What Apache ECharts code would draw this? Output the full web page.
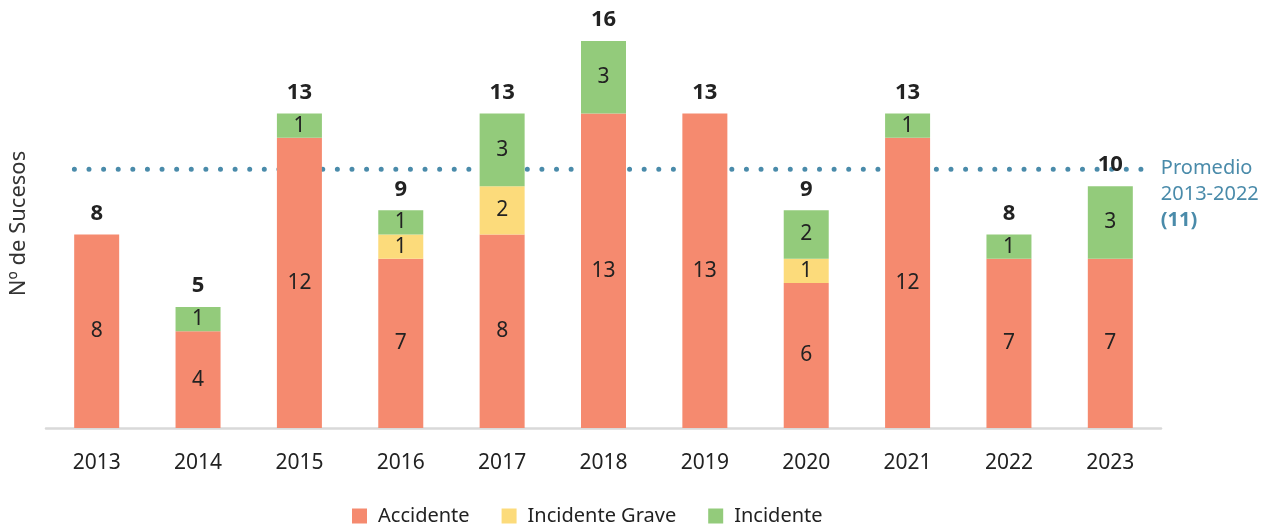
<!DOCTYPE html>
<html>
<head>
<meta charset="utf-8">
<script src="https://cdn.jsdelivr.net/npm/echarts@6/dist/echarts.min.js"></script>
<style>
  html, body { margin: 0; padding: 0; background: #fff; }
  #chart { width: 1270px; height: 528px; }
</style>
</head>
<body>
<div id="chart"></div>
<script>
// Sucesos por año, por tipo
const years = ['2013', '2014', '2015', '2016', '2017', '2018', '2019', '2020', '2021', '2022', '2023'];
const accidente = [8, 4, 12, 7, 8, 13, 13, 6, 12, 7, 7];
const incidenteGrave = [0, 0, 0, 1, 2, 0, 0, 1, 0, 0, 0];
const incidente = [0, 1, 1, 1, 3, 3, 0, 2, 1, 1, 3];

const totals = years.map((_, i) => accidente[i] + incidenteGrave[i] + incidente[i]);
// Promedio 2013-2022 (first ten years)
const promedioYears = totals.slice(0, 10);
const promedio = promedioYears.reduce((a, b) => a + b, 0) / promedioYears.length;
// horizontal extent of the dotted average line, in category units
const promedioSpan = [0.28, 10.88];

const FONT = '"Noto Sans", "Open Sans", sans-serif';
const C_ACC = '#F58A6F';
const C_GRV = '#FCDB7B';
const C_INC = '#93CB7B';
const C_AVG = '#4A8BAA';

const innerLabel = {
  show: true,
  position: 'inside',
  color: '#222',
  fontFamily: FONT,
  fontSize: 21,
  formatter: p => (p.value ? String(p.value) : '')
};

const chart = echarts.init(document.getElementById('chart'), null, { renderer: 'canvas' });
chart.setOption({
  animation: false,
  backgroundColor: '#fff',
  textStyle: { fontFamily: FONT },
  grid: { left: 43, right: 109, top: 41, bottom: 100, containLabel: false },
  legend: {
    top: 506,
    left: 352,
    padding: 0,
    itemWidth: 15,
    itemHeight: 15,
    itemGap: 32,
    icon: 'rect',
    textStyle: { fontFamily: FONT, fontSize: 20, color: '#222', padding: [0, 0, 0, 6] },
    data: ['Accidente', 'Incidente Grave', 'Incidente']
  },
  xAxis: [
    {
      type: 'category',
      data: years,
      axisLine: { show: true, lineStyle: { color: '#D9D9D9', width: 2.5 } },
      axisTick: { show: false },
      axisLabel: { color: '#222', fontFamily: FONT, fontSize: 21, margin: 25 }
    },
    {
      type: 'value',
      min: 0,
      max: years.length,
      show: false
    }
  ],
  yAxis: {
    type: 'value',
    min: 0,
    max: 16,
    name: 'Nº de Sucesos',
    nameLocation: 'middle',
    nameGap: 16,
    nameRotate: 90,
    nameTextStyle: { color: '#333', fontFamily: FONT, fontSize: 22, padding: [0, 0, 0, 22] },
    axisLine: { show: false },
    axisTick: { show: false },
    axisLabel: { show: false },
    splitLine: { show: false }
  },
  series: [
    {
      name: 'Promedio',
      type: 'line',
      xAxisIndex: 1,
      z: 1,
      symbol: 'none',
      silent: true,
      data: [[promedioSpan[0], promedio], [promedioSpan[1], promedio]],
      lineStyle: { color: C_AVG, width: 5, type: [0.01, 14.6], cap: 'round' },
      endLabel: {
        show: true,
        distance: 12,
        offset: [0, 25],
        align: 'left',
        formatter: () => '{t|Promedio}\n{t|2013-2022}\n{b|(' + Math.round(promedio) + ')}',
        rich: {
          t: { color: C_AVG, fontFamily: FONT, fontSize: 20, lineHeight: 26 },
          b: { color: C_AVG, fontFamily: FONT, fontSize: 20, fontWeight: 'bold', lineHeight: 26 }
        }
      }
    },
    {
      name: 'Accidente',
      type: 'bar',
      stack: 'total',
      z: 3,
      barWidth: 45,
      itemStyle: { color: C_ACC },
      label: innerLabel,
      data: accidente
    },
    {
      name: 'Incidente Grave',
      type: 'bar',
      stack: 'total',
      z: 3,
      itemStyle: { color: C_GRV },
      label: innerLabel,
      data: incidenteGrave
    },
    {
      name: 'Incidente',
      type: 'bar',
      stack: 'total',
      z: 3,
      itemStyle: { color: C_INC },
      label: innerLabel,
      data: incidente
    },
    {
      // zero-height cap carrying the total above each stack
      name: 'Total',
      type: 'bar',
      stack: 'total',
      z: 4,
      silent: true,
      itemStyle: { color: 'transparent' },
      label: {
        show: true,
        position: 'top',
        distance: 10,
        color: '#222',
        fontFamily: FONT,
        fontSize: 22,
        fontWeight: 'bold',
        formatter: p => String(totals[p.dataIndex])
      },
      data: years.map(() => 0)
    }
  ]
});
</script>
</body>
</html>
